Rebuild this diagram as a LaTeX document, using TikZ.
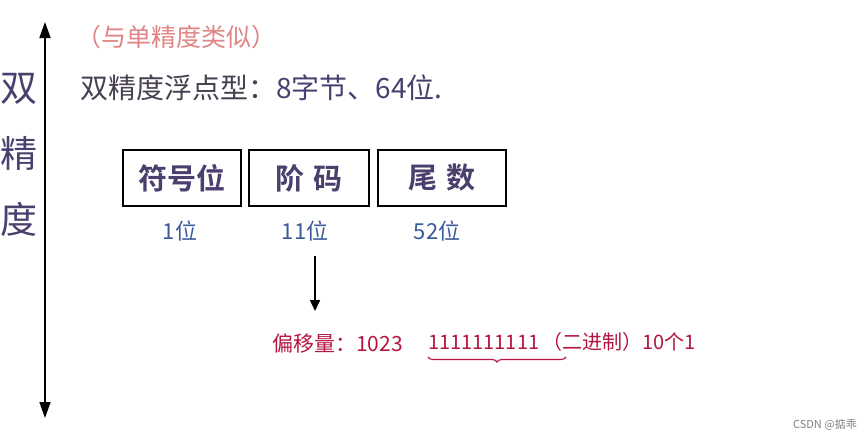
\documentclass[tikz,border=0pt]{standalone}
\usepackage{fontspec}
\newfontfamily\cjk{Noto Sans CJK SC}
\newfontfamily\cjkb{Noto Sans CJK SC Bold}
\usetikzlibrary{arrows.meta,decorations.pathreplacing}
\definecolor{pinkc}{HTML}{E08585}
\definecolor{purp}{HTML}{4B3F6E}
\definecolor{bluec}{HTML}{3B5A9C}
\definecolor{redc}{HTML}{B5163F}
\definecolor{greyc}{HTML}{474050}
\tikzset{
  fieldbox/.style={draw=black,line width=2.8pt,minimum height=56pt,inner sep=0pt,text=purp,font=\cjkb\fontsize{29}{32}\selectfont},
  bitlabel/.style={text=bluec,font=\cjk\fontsize{22}{24}\selectfont,inner sep=0pt},
  arr/.style={line width=1.6pt,-{Triangle[length=11pt,width=10pt]}},
}
\begin{document}
\begin{tikzpicture}[x=1pt,y=-1pt]
\useasboundingbox (0,0) rectangle (865,442);
\fill[white] (0,0) rectangle (865,442);
% vertical double arrow
\coordinate (vt) at (45,22);
\coordinate (vb) at (45,418);
\draw[line width=1.6pt,{Triangle[length=16pt,width=11pt]}-{Triangle[length=16pt,width=11pt]}] (vt) -- (vb);
\node[text=purp,font=\cjk\fontsize{37}{66}\selectfont,align=center,inner sep=0pt] (vlab) at (19,155) {双\\精\\度};
% title lines
\node[anchor=west,text=pinkc,font=\cjk\fontsize{25}{28}\selectfont,inner sep=0pt] (t1) at (76,37) {（与单精度类似）};
\node[anchor=west,font=\cjk\fontsize{28}{30}\selectfont,inner sep=0pt] (t2) at (80,88) {\textcolor{greyc}{双精度浮点型：}\textcolor{purp}{8字节、64位.}};
% boxes
\node[fieldbox,minimum width=118pt] (b1) at (182,178) {符号位};
\node[fieldbox,minimum width=120pt] (b2) at (309,178) {阶\,\,码};
\node[fieldbox,minimum width=128pt] (b3) at (442,178) {尾\,\,数};
% bit labels
\node[bitlabel] (l1) at (180,231) {1位};
\node[bitlabel] (l2) at (305,231) {11位};
\node[bitlabel] (l3) at (437,231) {52位};
% arrow
\coordinate (as) at (315,256);
\coordinate (ae) at (315,311);
\draw[arr] (as) -- (ae);
% red line
\node[anchor=west,text=redc,font=\cjk\fontsize{21}{24}\selectfont,inner sep=0pt] (r1) at (272,344) {偏移量：1023};
\node[anchor=west,text=redc,font=\cjk\fontsize{20}{24}\selectfont,inner sep=0pt] (r2) at (428,342) {1111111111\,（二进制）10个1};
\coordinate (ul) at (428,357);
\coordinate (ur) at (566,357);
\draw[redc,line width=1.1pt,decorate,decoration={brace,mirror,amplitude=5pt}] (ul) -- (ur);
% watermark
\node[anchor=east,text=gray,font=\cjk\fontsize{11}{13}\selectfont,inner sep=0pt] (wm) at (857,425) {CSDN @掂乖};
\end{tikzpicture}
\end{document}
